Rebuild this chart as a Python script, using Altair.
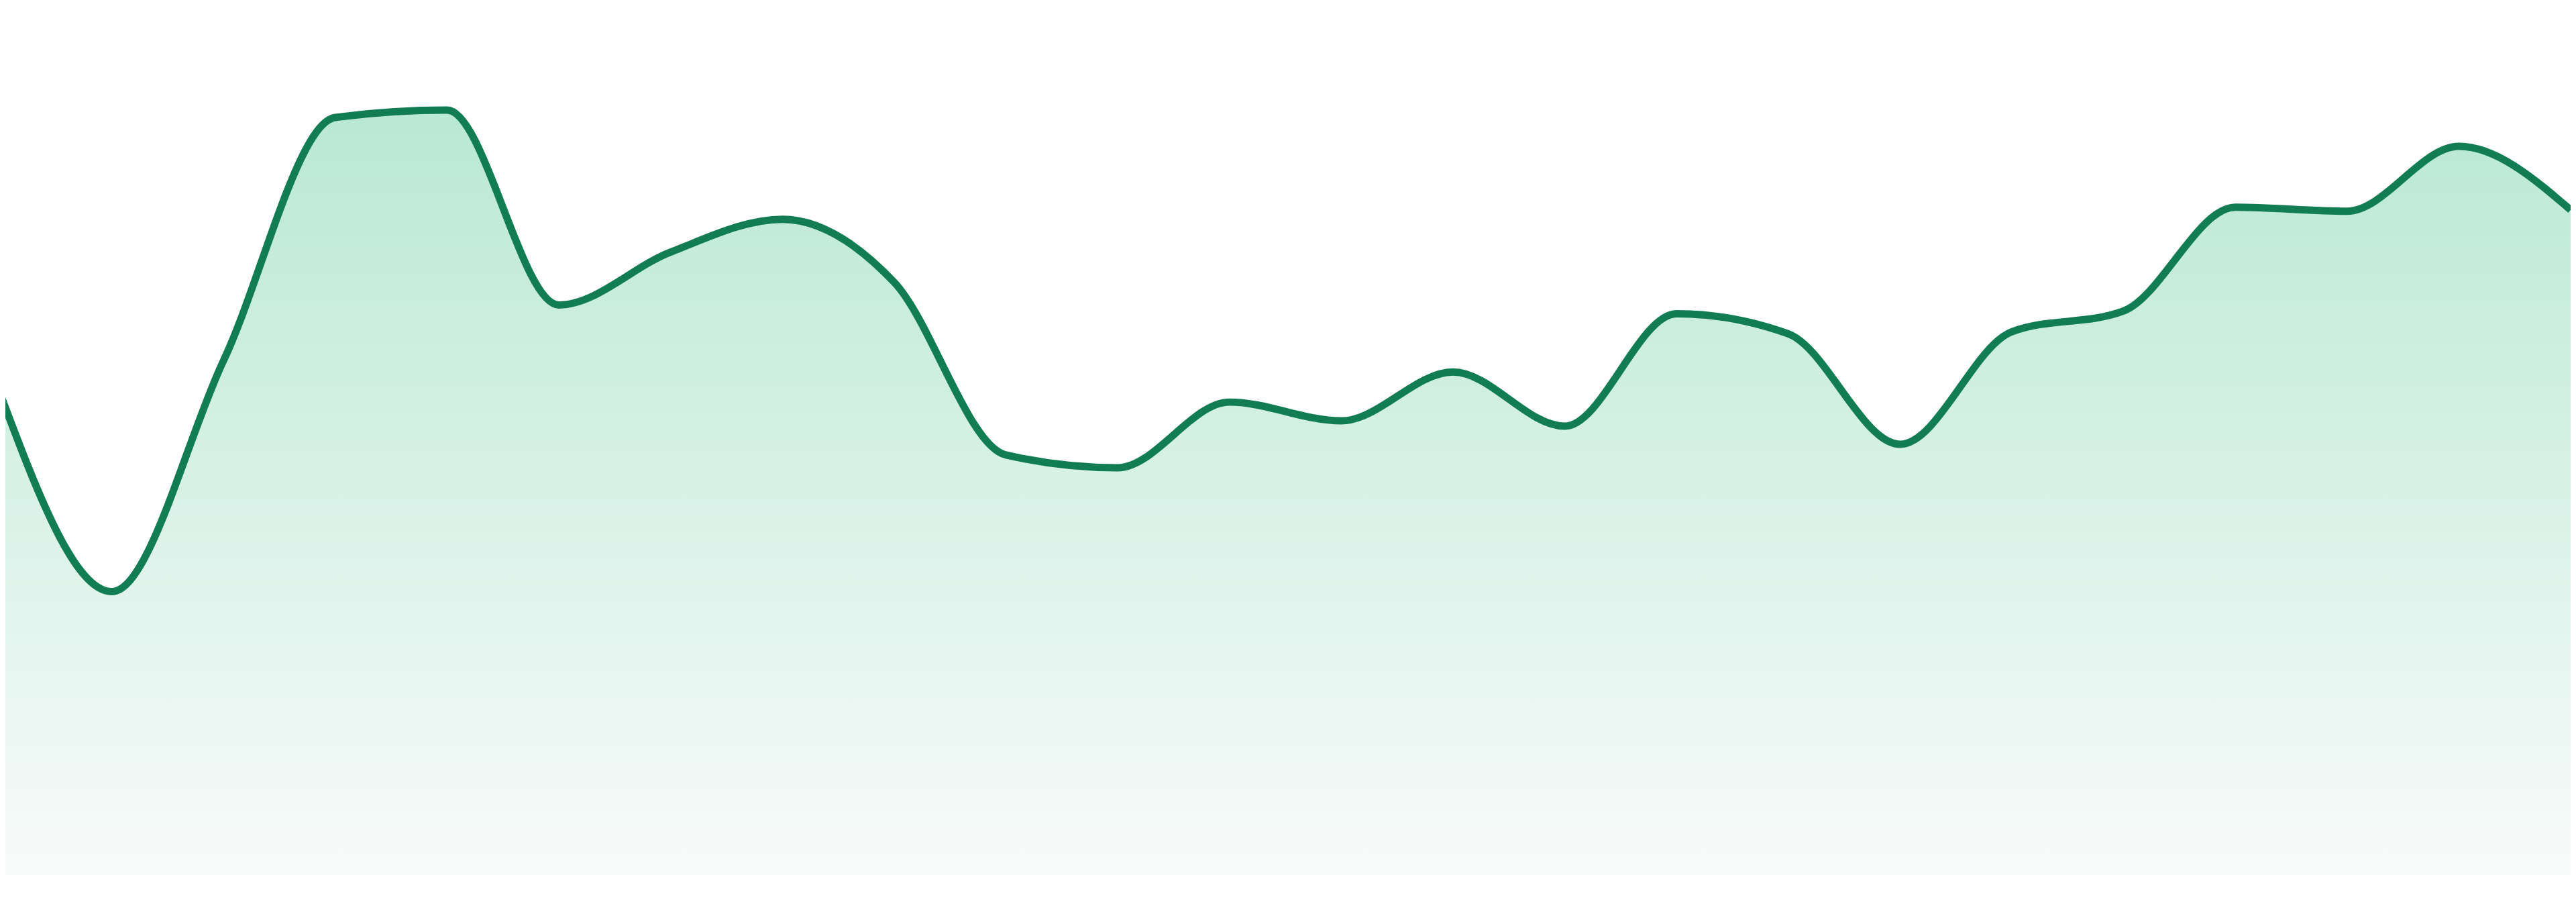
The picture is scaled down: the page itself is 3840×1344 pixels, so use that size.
import altair as alt
import pandas as pd

# Point index along the x axis (24 evenly spaced samples)
idx = list(range(24))
# Values (baseline = 0)
vals = [71.9, 42.3, 76.8, 113.1, 114.2, 85.1, 93.0, 97.9, 88.5, 62.7, 60.8, 70.6,
        67.8, 75.1, 67.0, 83.8, 80.8, 64.3, 81.1, 84.2, 99.7, 99.1, 108.8, 99.3]

line_color = "#127C53"
fill_top = "#B9E8D5"
fill_bottom = "#F8FBFA"

df = pd.DataFrame({"i": idx, "v": vals})

x_enc = alt.X("i:Q", scale=alt.Scale(domain=[0.0479, 23], nice=False, zero=False), axis=None)
y_enc = alt.Y("v:Q", scale=alt.Scale(domain=[0, 129.7], nice=False, zero=True), axis=None)

area = alt.Chart(df).mark_area(
    interpolate="monotone",
    clip=True,
    color=alt.Gradient(
        gradient="linear",
        stops=[alt.GradientStop(color=fill_top, offset=0),
               alt.GradientStop(color=fill_bottom, offset=1)],
        x1=1, x2=1, y1=0, y2=1,
    ),
).encode(x=x_enc, y=y_enc)

line = alt.Chart(df).mark_line(
    interpolate="monotone",
    clip=True,
    color=line_color,
    strokeWidth=11,
).encode(x=x_enc, y=y_enc)

chart = (area + line).properties(
    width=3832,
    height=1297,
    padding=0,
    autosize="none",
    background="white",
).configure_view(stroke=None)

chart.save("out.html", embed_options={"renderer": "svg", "actions": False})
